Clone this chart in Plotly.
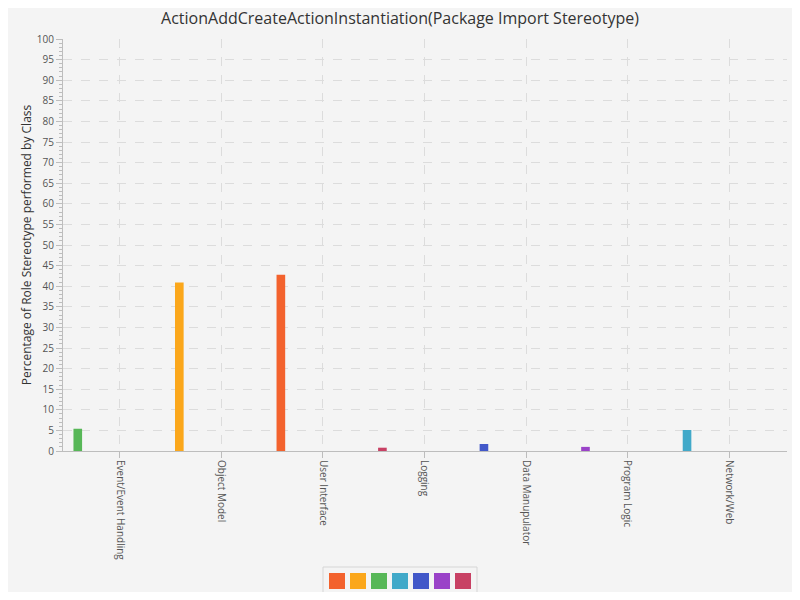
import plotly.graph_objects as go

# Role stereotype categories shown on the x axis
categories = ["Event/Event Handling", "Object Model", "User Interface", "Logging",
              "Data Manupulator", "Program Logic", "Network/Web"]

# One series per stereotype (JavaFX default palette order)
series_names = ["User Interface", "Object Model", "Event/Event Handling", "Network/Web",
                "Data Manupulator", "Program Logic", "Logging"]
series_values = [42.8, 40.9, 5.4, 5.1, 1.7, 1.0, 0.8]
colors = ["#f3622d", "#fba71b", "#57b757", "#41a9c9", "#4258c9", "#9a42c8", "#c84164"]

title = "ActionAddCreateActionInstantiation(Package Import Stereotype)"
font = "Open Sans, Noto Sans, sans-serif"

# the page body has an 8px margin, so the figure is a bit smaller than the window
W, H = 784, 584

fig = go.Figure()
for name, val, col in zip(series_names, series_values, colors):
    fig.add_trace(go.Bar(
        x=[name], y=[val], name=name,
        marker=dict(color=col, line=dict(width=0)),
        offset=-0.457, width=0.085,  # JavaFX draws each bar left of the tick
        showlegend=False,
    ))

# legend: plain coloured squares in a rounded box, no text
# (coords below are window pixels, plot area spans x 63..787, y 39..451)
def px(x):
    return (x - 63) / 724

def py(y):
    return (451 - y) / 412

fig.add_shape(type="rect", xref="paper", yref="paper",
              x0=px(323), x1=px(477), y0=py(593), y1=py(567),
              line=dict(color="#d6d6d6", width=1), fillcolor="#f4f4f4")
for i, col in enumerate(colors):
    x0 = 329 + 21 * i
    fig.add_shape(type="rect", xref="paper", yref="paper",
                  x0=px(x0), x1=px(x0 + 16), y0=py(589), y1=py(573),
                  line=dict(width=0), fillcolor=col)

fig.update_layout(
    width=W, height=H,
    paper_bgcolor="#f4f4f4", plot_bgcolor="#f4f4f4",
    barmode="overlay",
    margin=dict(l=55, r=5, t=31, b=141),
    font=dict(family=font, color="#333"),
    title=dict(text=title, x=0.5, xanchor="center", y=1 - 10 / H, yanchor="middle",
               font=dict(size=16, color="#333")),
)
fig.update_xaxes(
    type="category", categoryorder="array", categoryarray=categories,
    range=[-0.56, 6.57],
    showgrid=True, gridcolor="#dcdcdc", griddash="dash", gridwidth=1,
    showline=True, linecolor="#bdbdbd", linewidth=1,
    ticks="outside", ticklen=6, tickcolor="#bdbdbd",
    tickangle=90, tickfont=dict(size=10, color="#555"),
    zeroline=False,
)
fig.update_yaxes(
    range=[0, 100], dtick=5,
    showgrid=True, gridcolor="#dcdcdc", griddash="dash", gridwidth=1,
    showline=True, linecolor="#bdbdbd", linewidth=1,
    ticks="outside", ticklen=6, tickcolor="#bdbdbd",
    tickfont=dict(size=10, color="#555"),
    minor=dict(dtick=1, ticks="outside", ticklen=3, tickcolor="#bdbdbd", showgrid=False),
    zeroline=False,
    title=dict(text="Percentage of Role Stereotype performed by Class",
               font=dict(size=12, color="#333"), standoff=2),
)
fig.write_html("out.html")
